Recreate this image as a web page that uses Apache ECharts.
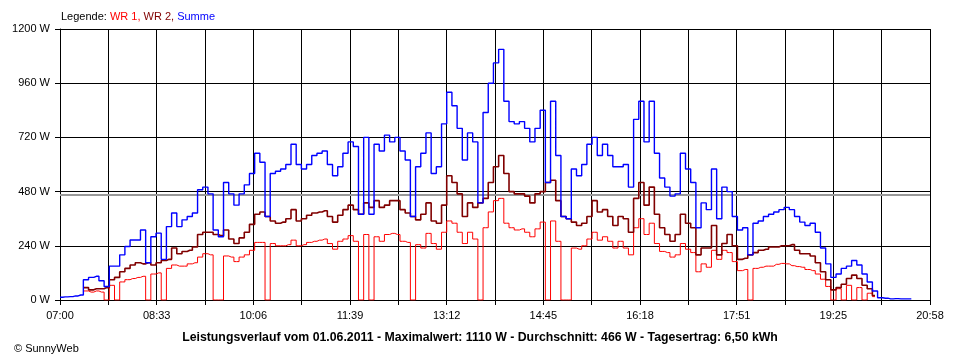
<!DOCTYPE html>
<html>
<head>
<meta charset="utf-8">
<script src="https://cdn.jsdelivr.net/npm/echarts@6/dist/echarts.min.js"></script>
<style>html,body{margin:0;padding:0;background:#fff}#c{width:960px;height:360px}</style>
</head>
<body>
<div id="c"></div>
<script>
// Samples every 5 minutes starting at 07:00
const startLabel = "07:00";
const stepMinutes = 5;
const xTickLabels = ["07:00","08:33","10:06","11:39","13:12","14:45","16:18","17:51","19:25","20:58"];
const yTickStep = 240;
const yMax = 1200;
const averageW = 466;
const titleText = "Leistungsverlauf vom 01.06.2011 - Maximalwert: 1110 W - Durchschnitt: 466 W - Tagesertrag: 6,50 kWh";

const summe = [12,14,15,18,22,90,100,105,85,60,150,150,200,237,266,266,310,165,280,296,
  180,325,385,325,355,370,385,488,500,470,310,280,520,470,420,470,510,560,650,610,
  370,560,570,580,600,690,600,580,600,640,650,660,600,550,590,650,700,680,380,720,
  380,690,660,730,700,720,660,620,370,590,650,740,560,590,780,920,860,760,620,740,
  700,430,830,960,1050,1110,880,790,780,790,760,700,760,840,520,880,640,370,360,580,
  550,600,690,720,640,690,640,590,590,600,500,800,880,700,880,650,540,500,460,470,
  650,580,520,320,430,400,580,360,500,480,370,310,320,200,340,350,370,380,390,400,
  410,400,370,345,330,340,300,230,160,100,115,140,150,175,155,115,80,40,10,8,
  5,6,5,5,5];

const wr2 = [null,null,null,null,null,55,45,50,50,55,90,100,125,140,155,165,160,165,155,165,
  175,180,230,205,215,220,235,290,300,300,290,285,310,270,250,275,300,335,380,390,
  370,350,340,345,360,400,350,360,375,385,390,395,370,345,375,400,420,400,380,430,
  410,440,410,420,440,440,400,385,370,355,380,430,350,340,420,550,520,470,370,430,
  410,430,450,520,590,640,560,480,470,470,460,430,470,480,520,530,440,370,360,345,
  330,340,370,440,390,400,370,330,370,360,300,450,520,420,500,380,320,290,260,290,
  380,340,320,200,230,230,330,200,250,290,240,180,185,200,210,220,225,235,235,240,
  240,245,220,205,205,195,165,125,90,45,55,70,95,110,95,65,50,20];

const wr1 = [null,null,null,null,null,40,35,40,35,0,65,0,80,90,95,100,105,0,115,120,
  0,140,155,150,150,160,165,190,205,200,0,0,195,190,170,190,200,220,255,255,
  0,250,240,240,245,265,240,245,255,260,265,270,250,225,260,270,285,260,0,290,
  0,280,260,290,295,290,260,255,0,245,230,295,250,225,300,350,340,300,250,300,
  270,0,320,390,440,450,340,320,310,315,300,280,315,345,0,350,260,0,0,230,
  225,240,270,300,265,280,260,230,260,230,200,320,360,290,340,250,215,210,190,200,
  250,225,210,125,160,145,220,180,220,210,170,130,135,0,140,145,150,150,158,162,
  160,152,148,145,135,130,115,92,60,0,50,0,65,0,55,0,30,15];

function toPairs(arr){ return arr.map((v,i)=>[i*stepMinutes, v]); }

const spanMinutes = 838; // 07:00 -> 20:58
const tickCount = 18;
const xInterval = spanMinutes / tickCount;

const chart = echarts.init(document.getElementById('c'), null, {renderer:'canvas'});
const font = 'Liberation Sans, Arial, sans-serif';
chart.setOption({
  animation: false,
  backgroundColor: '#fff',
  grid: {left: 60, right: 30, top: 29, bottom: 60, containLabel: false},
  title: {
    text: titleText, left: 'center', top: 327,
    textStyle: {fontFamily: font, fontSize: 12.3, fontWeight: 'bold', color: '#000'}
  },
  graphic: [
    {type: 'text', left: 61, top: 11, style: {
      text: '{k|Legende: }{a|WR 1, }{b|WR 2, }{c|Summe}',
      rich: {
        k: {fill: '#000', fontFamily: font, fontSize: 11},
        a: {fill: '#ff0000', fontFamily: font, fontSize: 11},
        b: {fill: '#800000', fontFamily: font, fontSize: 11},
        c: {fill: '#0000ff', fontFamily: font, fontSize: 11}
      }
    }},
    {type: 'text', left: 14, top: 343, style: {text: '\u00a9 SunnyWeb', fill: '#000', fontFamily: font, fontSize: 11}}
  ],
  xAxis: {
    type: 'value', min: 0, max: spanMinutes, interval: xInterval,
    axisLine: {show: true, lineStyle: {color: '#000', width: 1}},
    axisTick: {show: true, length: 5, lineStyle: {color: '#000'}},
    splitLine: {show: true, lineStyle: {color: '#000', width: 1}},
    axisLabel: {
      color: '#000', fontFamily: font, fontSize: 11, margin: 10,
      formatter: function(v){
        const i = Math.round(v / xInterval);
        return i % 2 === 0 ? (xTickLabels[i/2] || '') : '';
      }
    }
  },
  yAxis: {
    type: 'value', min: 0, max: yMax, interval: yTickStep,
    axisLine: {show: true, lineStyle: {color: '#000', width: 1}},
    axisTick: {show: true, length: 5, lineStyle: {color: '#000'}},
    splitLine: {show: true, lineStyle: {color: '#000', width: 1}},
    axisLabel: {color: '#000', fontFamily: font, fontSize: 11, margin: 10,
      formatter: function(v){ return String(v) + ' W'; }}
  },
  series: [
    {
      name: 'WR 1', type: 'line', data: toPairs(wr1), step: 'middle', showSymbol: false,
      lineStyle: {color: '#ff0000', width: 1}, itemStyle: {color: '#ff0000'}, z: 3,
      markLine: {
        silent: true, symbol: 'none', z: 1, label: {show: false},
        lineStyle: {color: '#999', width: 2, type: 'solid'},
        data: [{yAxis: averageW}]
      }
    },
    {
      name: 'WR 2', type: 'line', data: toPairs(wr2), step: 'middle', showSymbol: false,
      lineStyle: {color: '#800000', width: 1.6}, itemStyle: {color: '#800000'}, z: 3
    },
    {
      name: 'Summe', type: 'line', data: toPairs(summe), step: 'middle', showSymbol: false,
      lineStyle: {color: '#0000ff', width: 1.4}, itemStyle: {color: '#0000ff'}, z: 3
    }
  ]
});
</script>
</body>
</html>
